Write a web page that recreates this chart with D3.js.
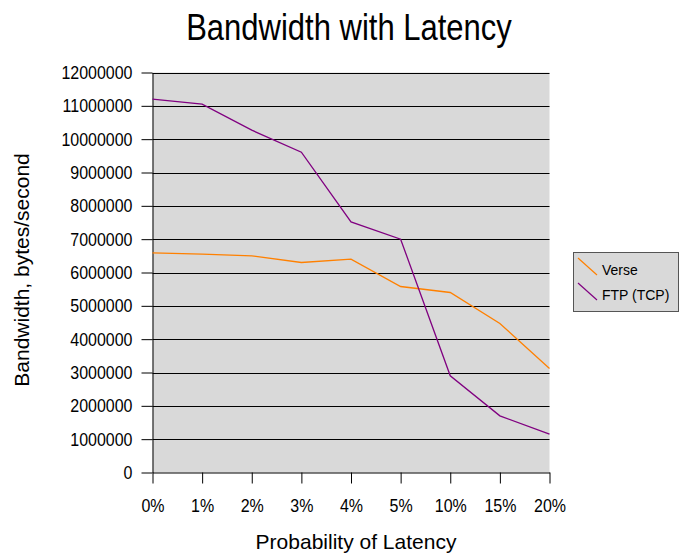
<!DOCTYPE html>
<html><head><meta charset="utf-8">
<script src="https://cdn.jsdelivr.net/npm/d3@7/dist/d3.min.js"></script>
<style>body{margin:0;background:#fff;} text{font-family:"Liberation Sans",Arial,sans-serif;}</style>
</head><body><svg id="c" width="683" height="560"></svg>
<script>
const categories = ["0%","1%","2%","3%","4%","5%","10%","15%","20%"];
const verse = [6590000,6550000,6500000,6300000,6400000,5580000,5400000,4470000,3120000];
const ftp = [11200000,11050000,10270000,9610000,7520000,7000000,2900000,1700000,1150000];
const yTicks = [0,1000000,2000000,3000000,4000000,5000000,6000000,7000000,8000000,9000000,10000000,11000000,12000000];
const seriesNames = ["Verse","FTP (TCP)"];
const colors = ["#ff8000","#800080"];

const svg = d3.select("#c");
const L=152.5, R=549.5, T=72.5, B=472.5;
const x = d3.scalePoint().domain(categories).range([L,R]).padding(0);
const y = d3.scaleLinear().domain([0,12000000]).range([B,T]);

svg.append("rect").attr("x",L).attr("y",T).attr("width",R-L).attr("height",B-T).attr("fill","#d9d9d9");
svg.append("g").selectAll("line").data(yTicks.slice(1)).join("line")
  .attr("x1",L).attr("x2",R).attr("y1",d=>Math.round(y(d))+0.5).attr("y2",d=>Math.round(y(d))+0.5)
  .attr("stroke","#000").attr("stroke-width",1);

const ya = svg.append("g").attr("transform",`translate(${L},0)`)
  .call(d3.axisLeft(y).tickValues(yTicks).tickFormat(d3.format("d")).tickSizeInner(11).tickSizeOuter(0).tickPadding(9));
ya.select(".domain").attr("stroke","#000");
ya.selectAll(".tick text").attr("font-size","16px").attr("fill","#000").style("font-family","Liberation Sans, Arial, sans-serif")
  .attr("dy",null).attr("x",null).attr("y",null)
  .attr("transform","translate(-20,6) scale(1,1.1)");
const xa = svg.append("g").attr("transform",`translate(0,${B})`)
  .call(d3.axisBottom(x).tickSizeInner(11).tickSizeOuter(0).tickPadding(12));
xa.select(".domain").attr("stroke","#000");
xa.selectAll(".tick text").attr("font-size","16px").attr("fill","#000").style("font-family","Liberation Sans, Arial, sans-serif")
  .attr("dy",null).attr("y",null)
  .attr("transform","translate(0,39.5) scale(1,1.1)");

const line = d3.line().x((d,i)=>x(categories[i])).y(d=>y(d));
[verse,ftp].forEach((s,k)=>{
  svg.append("path").datum(s).attr("d",line).attr("fill","none").attr("stroke",colors[k]).attr("stroke-width",1.3);
});

svg.append("text").attr("transform","translate(349,40) scale(1,1.2)").attr("text-anchor","middle").attr("font-size","31px").text("Bandwidth with Latency");
svg.append("text").attr("transform","translate(29,270) rotate(-90)").attr("text-anchor","middle").attr("font-size","21px").text("Bandwidth, bytes/second");
svg.append("text").attr("x",356).attr("y",549).attr("text-anchor","middle").attr("font-size","21px").text("Probability of Latency");

const lg = svg.append("g");
lg.append("rect").attr("x",573.5).attr("y",252.5).attr("width",105).attr("height",59).attr("fill","#d9d9d9").attr("stroke","#555");
seriesNames.forEach((n,k)=>{
  const yy = 258 + k*25;
  lg.append("line").attr("x1",578).attr("y1",yy).attr("x2",597).attr("y2",yy+17).attr("stroke",colors[k]).attr("stroke-width",1.2);
  lg.append("text").attr("transform",`translate(602,${yy+17}) scale(1,1.1)`).attr("font-size","14px").text(n);
});
</script></body></html>
